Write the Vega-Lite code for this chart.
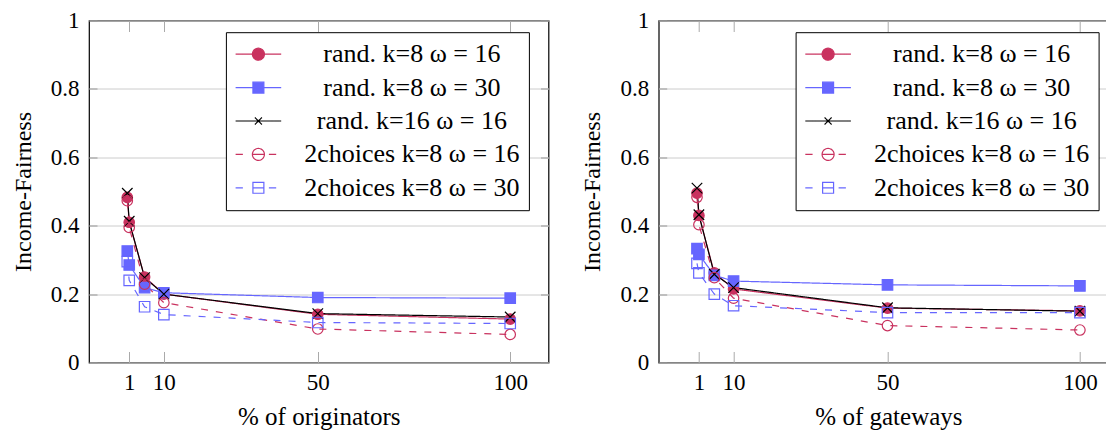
{
  "$schema": "https://vega.github.io/schema/vega-lite/v6.json",
  "padding": {"left": 10, "top": 8.5, "right": 0, "bottom": 0},
  "spacing": 29.7,
  "datasets": {
    "originators": [
      {"x": 0.5, "y": 0.483, "id": "A", "series": "rand. k=8 ω = 16"},
      {"x": 1, "y": 0.41, "id": "A", "series": "rand. k=8 ω = 16"},
      {"x": 5, "y": 0.25, "id": "A", "series": "rand. k=8 ω = 16"},
      {"x": 10, "y": 0.2, "id": "A", "series": "rand. k=8 ω = 16"},
      {"x": 50, "y": 0.141, "id": "A", "series": "rand. k=8 ω = 16"},
      {"x": 100, "y": 0.127, "id": "A", "series": "rand. k=8 ω = 16"},
      {"x": 0.5, "y": 0.326, "id": "B", "series": "rand. k=8 ω = 30"},
      {"x": 1, "y": 0.285, "id": "B", "series": "rand. k=8 ω = 30"},
      {"x": 5, "y": 0.219, "id": "B", "series": "rand. k=8 ω = 30"},
      {"x": 10, "y": 0.204, "id": "B", "series": "rand. k=8 ω = 30"},
      {"x": 50, "y": 0.19, "id": "B", "series": "rand. k=8 ω = 30"},
      {"x": 100, "y": 0.188, "id": "B", "series": "rand. k=8 ω = 30"},
      {"x": 0.5, "y": 0.495, "id": "C", "series": "rand. k=16 ω = 16"},
      {"x": 1, "y": 0.413, "id": "C", "series": "rand. k=16 ω = 16"},
      {"x": 5, "y": 0.248, "id": "C", "series": "rand. k=16 ω = 16"},
      {"x": 10, "y": 0.2, "id": "C", "series": "rand. k=16 ω = 16"},
      {"x": 50, "y": 0.143, "id": "C", "series": "rand. k=16 ω = 16"},
      {"x": 100, "y": 0.133, "id": "C", "series": "rand. k=16 ω = 16"},
      {"x": 0.5, "y": 0.473, "id": "D", "series": "2choices k=8 ω = 16"},
      {"x": 1, "y": 0.395, "id": "D", "series": "2choices k=8 ω = 16"},
      {"x": 5, "y": 0.229, "id": "D", "series": "2choices k=8 ω = 16"},
      {"x": 10, "y": 0.175, "id": "D", "series": "2choices k=8 ω = 16"},
      {"x": 50, "y": 0.098, "id": "D", "series": "2choices k=8 ω = 16"},
      {"x": 100, "y": 0.082, "id": "D", "series": "2choices k=8 ω = 16"},
      {"x": 0.5, "y": 0.295, "id": "E", "series": "2choices k=8 ω = 30"},
      {"x": 1, "y": 0.24, "id": "E", "series": "2choices k=8 ω = 30"},
      {"x": 5, "y": 0.163, "id": "E", "series": "2choices k=8 ω = 30"},
      {"x": 10, "y": 0.14, "id": "E", "series": "2choices k=8 ω = 30"},
      {"x": 50, "y": 0.117, "id": "E", "series": "2choices k=8 ω = 30"},
      {"x": 100, "y": 0.114, "id": "E", "series": "2choices k=8 ω = 30"}
    ],
    "gateways": [
      {"x": 0.5, "y": 0.495, "id": "A", "series": "rand. k=8 ω = 16"},
      {"x": 1, "y": 0.43, "id": "A", "series": "rand. k=8 ω = 16"},
      {"x": 5, "y": 0.262, "id": "A", "series": "rand. k=8 ω = 16"},
      {"x": 10, "y": 0.215, "id": "A", "series": "rand. k=8 ω = 16"},
      {"x": 50, "y": 0.159, "id": "A", "series": "rand. k=8 ω = 16"},
      {"x": 100, "y": 0.151, "id": "A", "series": "rand. k=8 ω = 16"},
      {"x": 0.5, "y": 0.333, "id": "B", "series": "rand. k=8 ω = 30"},
      {"x": 1, "y": 0.316, "id": "B", "series": "rand. k=8 ω = 30"},
      {"x": 5, "y": 0.255, "id": "B", "series": "rand. k=8 ω = 30"},
      {"x": 10, "y": 0.238, "id": "B", "series": "rand. k=8 ω = 30"},
      {"x": 50, "y": 0.227, "id": "B", "series": "rand. k=8 ω = 30"},
      {"x": 100, "y": 0.224, "id": "B", "series": "rand. k=8 ω = 30"},
      {"x": 0.5, "y": 0.51, "id": "C", "series": "rand. k=16 ω = 16"},
      {"x": 1, "y": 0.432, "id": "C", "series": "rand. k=16 ω = 16"},
      {"x": 5, "y": 0.258, "id": "C", "series": "rand. k=16 ω = 16"},
      {"x": 10, "y": 0.219, "id": "C", "series": "rand. k=16 ω = 16"},
      {"x": 50, "y": 0.16, "id": "C", "series": "rand. k=16 ω = 16"},
      {"x": 100, "y": 0.15, "id": "C", "series": "rand. k=16 ω = 16"},
      {"x": 0.5, "y": 0.483, "id": "D", "series": "2choices k=8 ω = 16"},
      {"x": 1, "y": 0.403, "id": "D", "series": "2choices k=8 ω = 16"},
      {"x": 5, "y": 0.248, "id": "D", "series": "2choices k=8 ω = 16"},
      {"x": 10, "y": 0.188, "id": "D", "series": "2choices k=8 ω = 16"},
      {"x": 50, "y": 0.108, "id": "D", "series": "2choices k=8 ω = 16"},
      {"x": 100, "y": 0.095, "id": "D", "series": "2choices k=8 ω = 16"},
      {"x": 0.5, "y": 0.29, "id": "E", "series": "2choices k=8 ω = 30"},
      {"x": 1, "y": 0.262, "id": "E", "series": "2choices k=8 ω = 30"},
      {"x": 5, "y": 0.2, "id": "E", "series": "2choices k=8 ω = 30"},
      {"x": 10, "y": 0.166, "id": "E", "series": "2choices k=8 ω = 30"},
      {"x": 50, "y": 0.146, "id": "E", "series": "2choices k=8 ω = 30"},
      {"x": 100, "y": 0.146, "id": "E", "series": "2choices k=8 ω = 30"}
    ]
  },
  "resolve": {
    "scale": {"stroke": "independent", "fill": "independent", "shape": "independent", "strokeDash": "independent"},
    "legend": {"stroke": "independent"}
  },
  "hconcat": [
    {
      "width": 459.5,
      "height": 342,
      "data": {"name": "originators"},
      "encoding": {
        "stroke": {
          "field": "series", "type": "nominal",
          "scale": {"domain": ["rand. k=8 ω = 16", "rand. k=8 ω = 30", "rand. k=16 ω = 16", "2choices k=8 ω = 16", "2choices k=8 ω = 30"], "range": ["#c9325f", "#6666ff", "#000000", "#c9325f", "#6666ff"]},
          "legend": {
            "title": null, "orient": "none", "legendX": 136.9, "legendY": 11.7,
            "strokeColor": "black", "fillColor": "white", "padding": 9, "cornerRadius": 0,
            "labelFont": "Liberation Serif", "labelFontSize": 26, "labelColor": "black",
            "labelAlign": "center", "labelOffset": 130, "labelLimit": 600,
            "symbolSize": 2079, "symbolStrokeWidth": 1.2, "rowPadding": 7.4, "clipHeight": 26,
            "encode": {"symbols": {"update": {
              "shape": {"signal": "['M-1,0H1M0.263,0A0.263,0.263 0 1,1 -0.263,0A0.263,0.263 0 1,1 0.263,0Z','M-1,0H1M-0.24,-0.24H0.24V0.24H-0.24Z','M-1,0H1M-0.155,-0.155L0.155,0.155M-0.155,0.155L0.155,-0.155','M-1,0H-0.68M-0.263,0H0.263M0.46,0H0.78M0.263,0A0.263,0.263 0 1,1 -0.263,0A0.263,0.263 0 1,1 0.263,0Z','M-1,0H-0.68M-0.24,0H0.24M0.46,0H0.78M-0.24,-0.24H0.24V0.24H-0.24Z'][indexof(['rand. k=8 ω = 16','rand. k=8 ω = 30','rand. k=16 ω = 16','2choices k=8 ω = 16','2choices k=8 ω = 30'], datum.value)]"},
              "fill": {"signal": "['#c9325f','#6666ff','transparent','transparent','transparent'][indexof(['rand. k=8 ω = 16','rand. k=8 ω = 30','rand. k=16 ω = 16','2choices k=8 ω = 16','2choices k=8 ω = 30'], datum.value)]"},
              "size": {"value": 2079},
              "strokeWidth": {"value": 1.2},
              "strokeDash": {"value": [1, 0]},
              "opacity": {"value": 1}
            }}}
          }
        }
      },
      "layer": [
        {
          "mark": {"type": "line", "strokeWidth": 1.2},
          "encoding": {
            "x": {"field": "x", "type": "quantitative", "scale": {"domain": [-9.45, 109.95], "nice": false, "zero": false},
              "axis": {"orient": "bottom", "values": [1, 10, 50, 100], "grid": false, "domain": false, "tickSize": -11, "tickColor": "#aaaaaa", "tickWidth": 1, "labelFontSize": 23, "labelPadding": 20, "labelOverlap": false, "labelFlush": false, "title": "% of originators", "titleFontSize": 25, "titlePadding": 10}},
            "y": {"field": "y", "type": "quantitative", "scale": {"domain": [0, 1], "nice": false, "zero": false},
              "axis": {"orient": "left", "values": [0, 0.2, 0.4, 0.6, 0.8, 1], "format": "~g", "grid": true, "gridColor": "#cccccc", "gridWidth": 1, "domain": false, "tickSize": -8, "tickColor": "#999999", "labelFontSize": 23, "labelPadding": 18, "title": "Income-Fairness", "titleFontSize": 24, "titlePadding": 15}},
            "strokeDash": {"field": "id", "type": "nominal", "legend": null,
              "scale": {"domain": ["A", "B", "C", "D", "E"], "range": [[1, 0], [1, 0], [1, 0], [7, 8], [7, 8]]}}
          }
        },
        {
          "mark": {"type": "point", "opacity": 1, "strokeWidth": 1.2, "size": 110},
          "encoding": {
            "x": {"field": "x", "type": "quantitative", "scale": {"domain": [-9.45, 109.95], "nice": false, "zero": false},
              "axis": {"orient": "top", "values": [1, 10, 50, 100], "grid": false, "domain": false, "labels": false, "tickSize": -11, "tickColor": "#aaaaaa", "tickWidth": 1, "title": null}},
            "y": {"field": "y", "type": "quantitative", "scale": {"domain": [0, 1], "nice": false, "zero": false},
              "axis": {"orient": "right", "values": [0, 0.2, 0.4, 0.6, 0.8, 1], "grid": false, "domain": false, "labels": false, "tickSize": -8, "tickColor": "#999999", "title": null}},
            "shape": {"field": "id", "type": "nominal", "legend": null,
              "scale": {"domain": ["A", "B", "C", "D", "E"], "range": ["circle", "square", "M-1,-1L1,1M-1,1L1,-1", "circle", "square"]}},
            "fill": {"field": "id", "type": "nominal", "legend": null,
              "scale": {"domain": ["A", "B", "C", "D", "E"], "range": ["#c9325f", "#6666ff", "transparent", "transparent", "transparent"]}}
          }
        }
      ],
      "resolve": {"axis": {"x": "independent", "y": "independent"}}
    },
    {
      "width": 459.5,
      "height": 342,
      "data": {"name": "gateways"},
      "encoding": {
        "stroke": {
          "field": "series", "type": "nominal",
          "scale": {"domain": ["rand. k=8 ω = 16", "rand. k=8 ω = 30", "rand. k=16 ω = 16", "2choices k=8 ω = 16", "2choices k=8 ω = 30"], "range": ["#c9325f", "#6666ff", "#000000", "#c9325f", "#6666ff"]},
          "legend": {
            "title": null, "orient": "none", "legendX": 136.9, "legendY": 11.7,
            "strokeColor": "black", "fillColor": "white", "padding": 9, "cornerRadius": 0,
            "labelFont": "Liberation Serif", "labelFontSize": 26, "labelColor": "black",
            "labelAlign": "center", "labelOffset": 130, "labelLimit": 600,
            "symbolSize": 2079, "symbolStrokeWidth": 1.2, "rowPadding": 7.4, "clipHeight": 26,
            "encode": {"symbols": {"update": {
              "shape": {"signal": "['M-1,0H1M0.263,0A0.263,0.263 0 1,1 -0.263,0A0.263,0.263 0 1,1 0.263,0Z','M-1,0H1M-0.24,-0.24H0.24V0.24H-0.24Z','M-1,0H1M-0.155,-0.155L0.155,0.155M-0.155,0.155L0.155,-0.155','M-1,0H-0.68M-0.263,0H0.263M0.46,0H0.78M0.263,0A0.263,0.263 0 1,1 -0.263,0A0.263,0.263 0 1,1 0.263,0Z','M-1,0H-0.68M-0.24,0H0.24M0.46,0H0.78M-0.24,-0.24H0.24V0.24H-0.24Z'][indexof(['rand. k=8 ω = 16','rand. k=8 ω = 30','rand. k=16 ω = 16','2choices k=8 ω = 16','2choices k=8 ω = 30'], datum.value)]"},
              "fill": {"signal": "['#c9325f','#6666ff','transparent','transparent','transparent'][indexof(['rand. k=8 ω = 16','rand. k=8 ω = 30','rand. k=16 ω = 16','2choices k=8 ω = 16','2choices k=8 ω = 30'], datum.value)]"},
              "size": {"value": 2079},
              "strokeWidth": {"value": 1.2},
              "strokeDash": {"value": [1, 0]},
              "opacity": {"value": 1}
            }}}
          }
        }
      },
      "layer": [
        {
          "mark": {"type": "line", "strokeWidth": 1.2},
          "encoding": {
            "x": {"field": "x", "type": "quantitative", "scale": {"domain": [-9.45, 109.95], "nice": false, "zero": false},
              "axis": {"orient": "bottom", "values": [1, 10, 50, 100], "grid": false, "domain": false, "tickSize": -11, "tickColor": "#aaaaaa", "tickWidth": 1, "labelFontSize": 23, "labelPadding": 20, "labelOverlap": false, "labelFlush": false, "title": "% of gateways", "titleFontSize": 25, "titlePadding": 10}},
            "y": {"field": "y", "type": "quantitative", "scale": {"domain": [0, 1], "nice": false, "zero": false},
              "axis": {"orient": "left", "values": [0, 0.2, 0.4, 0.6, 0.8, 1], "format": "~g", "grid": true, "gridColor": "#cccccc", "gridWidth": 1, "domain": false, "tickSize": -8, "tickColor": "#999999", "labelFontSize": 23, "labelPadding": 18, "title": "Income-Fairness", "titleFontSize": 24, "titlePadding": 15}},
            "strokeDash": {"field": "id", "type": "nominal", "legend": null,
              "scale": {"domain": ["A", "B", "C", "D", "E"], "range": [[1, 0], [1, 0], [1, 0], [7, 8], [7, 8]]}}
          }
        },
        {
          "mark": {"type": "point", "opacity": 1, "strokeWidth": 1.2, "size": 110},
          "encoding": {
            "x": {"field": "x", "type": "quantitative", "scale": {"domain": [-9.45, 109.95], "nice": false, "zero": false},
              "axis": {"orient": "top", "values": [1, 10, 50, 100], "grid": false, "domain": false, "labels": false, "tickSize": -11, "tickColor": "#aaaaaa", "tickWidth": 1, "title": null}},
            "y": {"field": "y", "type": "quantitative", "scale": {"domain": [0, 1], "nice": false, "zero": false},
              "axis": {"orient": "right", "values": [0, 0.2, 0.4, 0.6, 0.8, 1], "grid": false, "domain": false, "labels": false, "tickSize": -8, "tickColor": "#999999", "title": null}},
            "shape": {"field": "id", "type": "nominal", "legend": null,
              "scale": {"domain": ["A", "B", "C", "D", "E"], "range": ["circle", "square", "M-1,-1L1,1M-1,1L1,-1", "circle", "square"]}},
            "fill": {"field": "id", "type": "nominal", "legend": null,
              "scale": {"domain": ["A", "B", "C", "D", "E"], "range": ["#c9325f", "#6666ff", "transparent", "transparent", "transparent"]}}
          }
        }
      ],
      "resolve": {"axis": {"x": "independent", "y": "independent"}}
    }
  ],
  "config": {
    "font": "Liberation Serif",
    "view": {"stroke": "black", "strokeWidth": 1.2},
    "axis": {"labelFont": "Liberation Serif", "titleFont": "Liberation Serif", "labelColor": "black", "titleColor": "black", "titleFontWeight": "normal"}
  }
}
